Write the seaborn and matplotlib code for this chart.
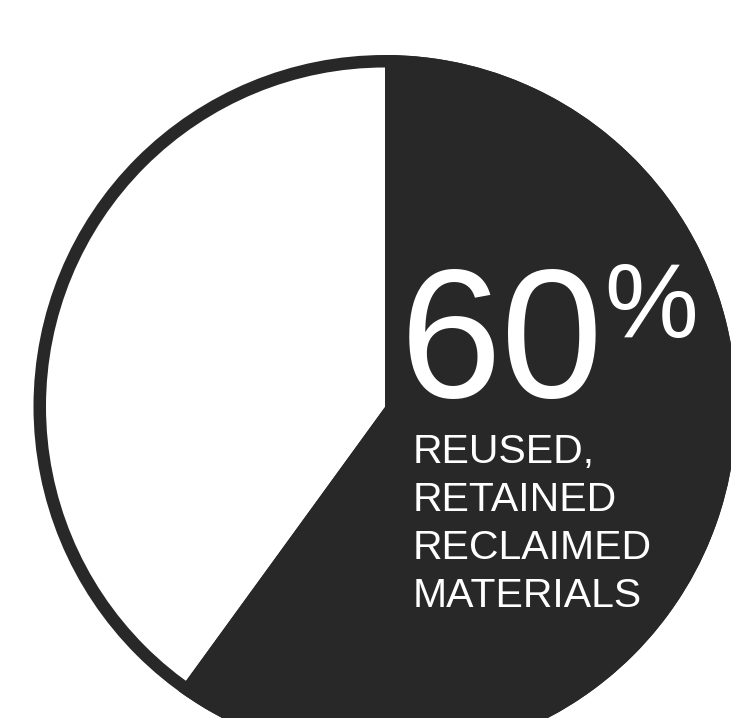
import matplotlib
matplotlib.use("Agg")
import matplotlib.pyplot as plt
from matplotlib.patches import Circle
import seaborn as sns

sns.set_theme(style="white")
plt.rcParams['font.family'] = ['Liberation Sans', 'DejaVu Sans']

# data
categories = ["Reused, retained, reclaimed materials", "Other"]
values = [60, 40]
big_number = "60"
big_unit = "%"
label_lines = ["REUSED,", "RETAINED", "RECLAIMED", "MATERIALS"]

DARK = "#282828"
W, H = 731, 718
fig = plt.figure(figsize=(W / 100, H / 100), dpi=100)
ax = fig.add_axes([0, 0, 1, 1])

cx, cy = 385, H - 406.5
R = 351.5
ring = 12.5

ax.pie(values, colors=[DARK, "white"], startangle=90, counterclock=False,
       center=(cx, cy), radius=R, wedgeprops=dict(linewidth=0), frame=True)
ax.add_patch(Circle((cx, cy), R - ring / 2, fill=False, edgecolor=DARK,
                    linewidth=ring * 72 / 100))

ax.set_xlim(0, W)
ax.set_ylim(0, H)
ax.set_aspect('equal')
ax.axis('off')

ax.text(400, H - 397, big_number, color="white", fontsize=132,
        ha="left", va="baseline")
ax.text(604, H - 337, big_unit, color="white", fontsize=76,
        ha="left", va="baseline")

base0 = H - 463
step = 48
for i, line in enumerate(label_lines):
    ax.text(413, base0 - i * step, line, color="white", fontsize=29.5,
            ha="left", va="baseline")

fig.savefig("out.png", dpi=100, facecolor="white")
